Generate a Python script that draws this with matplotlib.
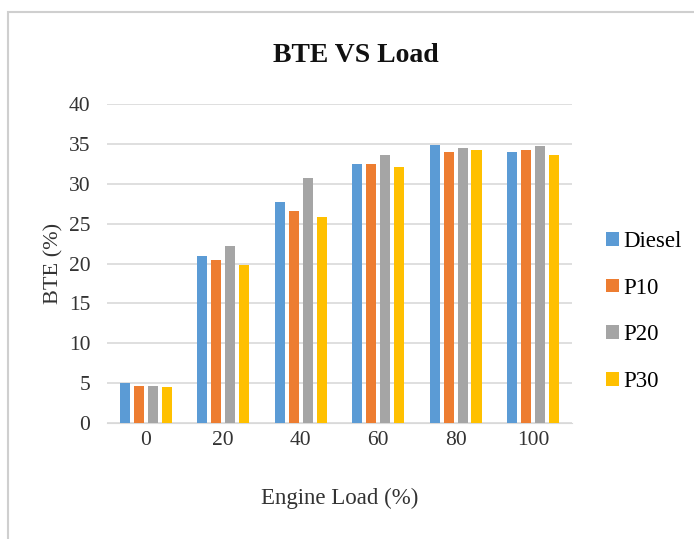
import matplotlib
matplotlib.use("Agg")
import matplotlib.pyplot as plt
import numpy as np
from matplotlib.patches import Rectangle

categories = ["0", "20", "40", "60", "80", "100"]
series_names = ["Diesel", "P10", "P20", "P30"]
diesel = [5.0, 21.0, 27.7, 32.5, 34.9, 34.0]
p10 = [4.6, 20.4, 26.6, 32.5, 34.0, 34.2]
p20 = [4.6, 22.2, 30.7, 33.6, 34.5, 34.7]
p30 = [4.5, 19.8, 25.9, 32.1, 34.2, 33.6]
colors = ["#5B9BD5", "#ED7D31", "#A5A5A5", "#FFC000"]
yticks = [0, 5, 10, 15, 20, 25, 30, 35, 40]

plt.rcParams['font.family'] = ['Liberation Serif', 'DejaVu Serif']

fig = plt.figure(figsize=(6.94, 5.39), dpi=100)
ax = fig.add_axes([0.154, 0.215, 0.67, 0.592])

x = np.arange(len(categories))
pitch = 0.18
width = 0.13
for i, (name, vals, c) in enumerate(zip(series_names, [diesel, p10, p20, p30], colors)):
    ax.bar(x + (i - 1.5) * pitch, vals, width=width, color=c, label=name, zorder=3)

ax.set_xlim(-0.5, len(categories) - 0.5)
ax.set_ylim(0, 40)
ax.set_yticks(yticks)
ax.set_xticks(x)
ax.set_xticklabels(categories)
ax.grid(axis='y', color='#D9D9D9', linewidth=1.2, zorder=0)
for s in ['top', 'right', 'left']:
    ax.spines[s].set_visible(False)
ax.spines['bottom'].set_color('#D9D9D9')
ax.tick_params(axis='both', length=0, labelsize=15.5, colors='#333333')
ax.tick_params(axis='x', pad=6)
ax.tick_params(axis='y', pad=12)

fig.text(356/694, 1 - 55/539, "BTE VS Load", fontsize=20, fontweight='bold',
         ha='center', va='center', color='#111111')
ax.set_xlabel("Engine Load (%)", fontsize=16.5, labelpad=27, color='#333333')
ax.set_ylabel("BTE (%)", fontsize=16, labelpad=4, color='#333333')

leg = ax.legend(loc='center left', bbox_to_anchor=(1.03, 0.35), frameon=False,
                fontsize=16.5, handlelength=0.55, handleheight=0.55,
                handletextpad=0.2, labelspacing=1.12)

fig.patches.append(Rectangle((8/694, -0.05), 1.1, 0.05 + 1 - 12/539,
                             transform=fig.transFigure, fill=False,
                             edgecolor='#CFCFCF', linewidth=1.5))

fig.savefig("out.png", dpi=100)
